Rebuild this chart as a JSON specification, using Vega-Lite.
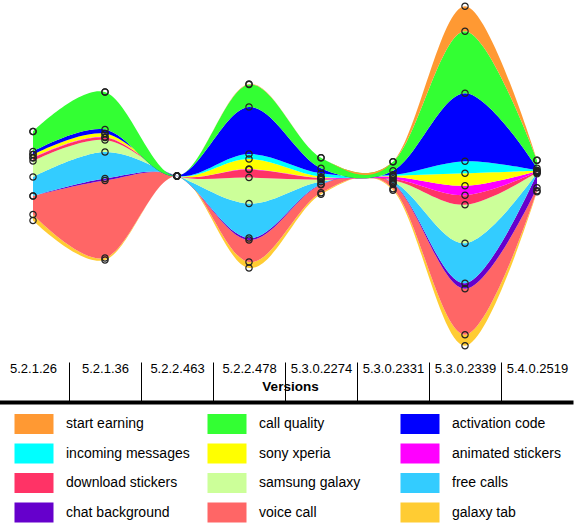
{
  "$schema": "https://vega.github.io/schema/vega-lite/v6.json",
  "width": 576,
  "height": 402,
  "autosize": {"type": "none"},
  "padding": {"left": 0, "top": 0, "right": 4, "bottom": 121},
  "background": "white",
  "config": {"view": {"stroke": null}},
  "data": {"values": [
    {"version": "5.2.1.26", "series": "galaxy tab", "value": 6},
    {"version": "5.2.1.26", "series": "voice call", "value": 18.5},
    {"version": "5.2.1.26", "series": "chat background", "value": 0},
    {"version": "5.2.1.26", "series": "free calls", "value": 19},
    {"version": "5.2.1.26", "series": "samsung galaxy", "value": 16},
    {"version": "5.2.1.26", "series": "download stickers", "value": 3},
    {"version": "5.2.1.26", "series": "animated stickers", "value": 0.5},
    {"version": "5.2.1.26", "series": "sony xperia", "value": 3},
    {"version": "5.2.1.26", "series": "incoming messages", "value": 0},
    {"version": "5.2.1.26", "series": "activation code", "value": 3},
    {"version": "5.2.1.26", "series": "call quality", "value": 20},
    {"version": "5.2.1.26", "series": "start earning", "value": 0},

    {"version": "5.2.1.36", "series": "galaxy tab", "value": 2},
    {"version": "5.2.1.36", "series": "voice call", "value": 77.5},
    {"version": "5.2.1.36", "series": "chat background", "value": 2},
    {"version": "5.2.1.36", "series": "free calls", "value": 26.5},
    {"version": "5.2.1.36", "series": "samsung galaxy", "value": 12},
    {"version": "5.2.1.36", "series": "download stickers", "value": 2.5},
    {"version": "5.2.1.36", "series": "animated stickers", "value": 0.5},
    {"version": "5.2.1.36", "series": "sony xperia", "value": 3.5},
    {"version": "5.2.1.36", "series": "incoming messages", "value": 0},
    {"version": "5.2.1.36", "series": "activation code", "value": 4},
    {"version": "5.2.1.36", "series": "call quality", "value": 37.5},
    {"version": "5.2.1.36", "series": "start earning", "value": 0},

    {"version": "5.2.2.463", "series": "galaxy tab", "value": 0},
    {"version": "5.2.2.463", "series": "voice call", "value": 0},
    {"version": "5.2.2.463", "series": "chat background", "value": 0},
    {"version": "5.2.2.463", "series": "free calls", "value": 0},
    {"version": "5.2.2.463", "series": "samsung galaxy", "value": 0},
    {"version": "5.2.2.463", "series": "download stickers", "value": 0},
    {"version": "5.2.2.463", "series": "animated stickers", "value": 0},
    {"version": "5.2.2.463", "series": "sony xperia", "value": 0},
    {"version": "5.2.2.463", "series": "incoming messages", "value": 0},
    {"version": "5.2.2.463", "series": "activation code", "value": 0},
    {"version": "5.2.2.463", "series": "call quality", "value": 0},
    {"version": "5.2.2.463", "series": "start earning", "value": 0},

    {"version": "5.2.2.478", "series": "galaxy tab", "value": 6},
    {"version": "5.2.2.478", "series": "voice call", "value": 22},
    {"version": "5.2.2.478", "series": "chat background", "value": 2},
    {"version": "5.2.2.478", "series": "free calls", "value": 34.5},
    {"version": "5.2.2.478", "series": "samsung galaxy", "value": 26},
    {"version": "5.2.2.478", "series": "download stickers", "value": 8},
    {"version": "5.2.2.478", "series": "animated stickers", "value": 0.5},
    {"version": "5.2.2.478", "series": "sony xperia", "value": 10},
    {"version": "5.2.2.478", "series": "incoming messages", "value": 5},
    {"version": "5.2.2.478", "series": "activation code", "value": 47},
    {"version": "5.2.2.478", "series": "call quality", "value": 22.5},
    {"version": "5.2.2.478", "series": "start earning", "value": 0.5},

    {"version": "5.3.0.2274", "series": "galaxy tab", "value": 1.5},
    {"version": "5.3.0.2274", "series": "voice call", "value": 8},
    {"version": "5.3.0.2274", "series": "chat background", "value": 0.5},
    {"version": "5.3.0.2274", "series": "free calls", "value": 2.5},
    {"version": "5.3.0.2274", "series": "samsung galaxy", "value": 2},
    {"version": "5.3.0.2274", "series": "download stickers", "value": 1.5},
    {"version": "5.3.0.2274", "series": "animated stickers", "value": 0.5},
    {"version": "5.3.0.2274", "series": "sony xperia", "value": 1},
    {"version": "5.3.0.2274", "series": "incoming messages", "value": 3.5},
    {"version": "5.3.0.2274", "series": "activation code", "value": 5},
    {"version": "5.3.0.2274", "series": "call quality", "value": 10.5},
    {"version": "5.3.0.2274", "series": "start earning", "value": 0},

    {"version": "5.3.0.2331", "series": "galaxy tab", "value": 1.5},
    {"version": "5.3.0.2331", "series": "voice call", "value": 5},
    {"version": "5.3.0.2331", "series": "chat background", "value": 0.5},
    {"version": "5.3.0.2331", "series": "free calls", "value": 1.5},
    {"version": "5.3.0.2331", "series": "samsung galaxy", "value": 1.5},
    {"version": "5.3.0.2331", "series": "download stickers", "value": 1.5},
    {"version": "5.3.0.2331", "series": "animated stickers", "value": 2},
    {"version": "5.3.0.2331", "series": "sony xperia", "value": 1},
    {"version": "5.3.0.2331", "series": "incoming messages", "value": 1},
    {"version": "5.3.0.2331", "series": "activation code", "value": 4},
    {"version": "5.3.0.2331", "series": "call quality", "value": 9},
    {"version": "5.3.0.2331", "series": "start earning", "value": 0},

    {"version": "5.3.0.2339", "series": "galaxy tab", "value": 11},
    {"version": "5.3.0.2339", "series": "voice call", "value": 46},
    {"version": "5.3.0.2339", "series": "chat background", "value": 5.5},
    {"version": "5.3.0.2339", "series": "free calls", "value": 40},
    {"version": "5.3.0.2339", "series": "samsung galaxy", "value": 38.5},
    {"version": "5.3.0.2339", "series": "download stickers", "value": 9.5},
    {"version": "5.3.0.2339", "series": "animated stickers", "value": 9.5},
    {"version": "5.3.0.2339", "series": "sony xperia", "value": 12.5},
    {"version": "5.3.0.2339", "series": "incoming messages", "value": 12},
    {"version": "5.3.0.2339", "series": "activation code", "value": 68},
    {"version": "5.3.0.2339", "series": "call quality", "value": 62},
    {"version": "5.3.0.2339", "series": "start earning", "value": 25},

    {"version": "5.4.0.2519", "series": "galaxy tab", "value": 1},
    {"version": "5.4.0.2519", "series": "voice call", "value": 3},
    {"version": "5.4.0.2519", "series": "chat background", "value": 14},
    {"version": "5.4.0.2519", "series": "free calls", "value": 1},
    {"version": "5.4.0.2519", "series": "samsung galaxy", "value": 0.5},
    {"version": "5.4.0.2519", "series": "download stickers", "value": 0.5},
    {"version": "5.4.0.2519", "series": "animated stickers", "value": 0.5},
    {"version": "5.4.0.2519", "series": "sony xperia", "value": 0.5},
    {"version": "5.4.0.2519", "series": "incoming messages", "value": 0.5},
    {"version": "5.4.0.2519", "series": "activation code", "value": 2},
    {"version": "5.4.0.2519", "series": "call quality", "value": 8},
    {"version": "5.4.0.2519", "series": "start earning", "value": 0}
  ]},
  "transform": [
    {"stack": "value", "groupby": ["version"], "offset": "center", "as": ["y0", "y1"]}
  ],
  "encoding": {
    "x": {
      "field": "version",
      "type": "ordinal",
      "sort": null,
      "bandPosition": 0.5,
      "scale": {"type": "band", "paddingInner": 0, "paddingOuter": 0, "range": [-3, 573]},
      "axis": {
        "title": "Versions",
        "orient": "bottom",
        "grid": false,
        "labelAngle": 0,
        "labelFont": "Liberation Sans",
        "labelFontSize": 13,
        "labelColor": "#000",
        "labelPadding": 0,
        "labelBaseline": "top",
        "domainColor": "#000",
        "domainWidth": 4,
        "tickBand": "extent",
        "tickSize": -40,
        "tickColor": "#000",
        "tickWidth": 1,
        "tickOpacity": {"condition": {"test": "datum.value === '5.4.0.2519'", "value": 0}, "value": 1},
        "titleFont": "Liberation Sans",
        "titleFontSize": 13.5,
        "titleFontWeight": "bold",
        "titleColor": "#000",
        "titleY": -23,
        "titleX": 290,
        "titleBaseline": "top"
      }
    }
  },
  "layer": [
    {
      "mark": {"type": "area", "interpolate": "cardinal", "opacity": 1},
      "encoding": {
        "y": {"field": "y0", "type": "quantitative", "scale": {"domain": [-56.25, 345.75], "nice": false, "zero": false}, "axis": null},
        "y2": {"field": "y1"},
        "color": {
          "field": "series",
          "type": "nominal",
          "scale": {
            "domain": ["start earning", "call quality", "activation code", "incoming messages", "sony xperia", "animated stickers", "download stickers", "samsung galaxy", "free calls", "chat background", "voice call", "galaxy tab"],
            "range": ["#ff9933", "#33ff33", "#0000ff", "#00ffff", "#ffff00", "#ff00ff", "#ff3366", "#ccff99", "#33ccff", "#6600cc", "#ff6666", "#ffcc33"]
          },
          "legend": {
            "title": null,
            "orient": "none",
            "legendX": 24,
            "legendY": 414,
            "columns": 3,
            "direction": "horizontal",
            "gridAlign": "all",
            "padding": 0,
            "symbolType": "M-1.95,-1H1.95V1H-1.95Z",
            "symbolSize": 400,
            "symbolStrokeWidth": 0,
            "symbolOpacity": 1,
            "labelFont": "Liberation Sans",
            "labelFontSize": 14,
            "labelColor": "#000",
            "labelOffset": 22,
            "labelLimit": 300,
            "rowPadding": 9.5,
            "columnPadding": 17
          }
        }
      }
    },
    {
      "mark": {"type": "point", "filled": false, "stroke": "#222", "strokeWidth": 1.2, "size": 40, "opacity": 1},
      "encoding": {
        "y": {"field": "y1", "type": "quantitative", "axis": null}
      }
    },
    {
      "transform": [{"filter": {"field": "series", "equal": "galaxy tab"}}],
      "mark": {"type": "point", "filled": false, "stroke": "#222", "strokeWidth": 1.2, "size": 40, "opacity": 1},
      "encoding": {
        "y": {"field": "y0", "type": "quantitative", "axis": null}
      }
    }
  ]
}
